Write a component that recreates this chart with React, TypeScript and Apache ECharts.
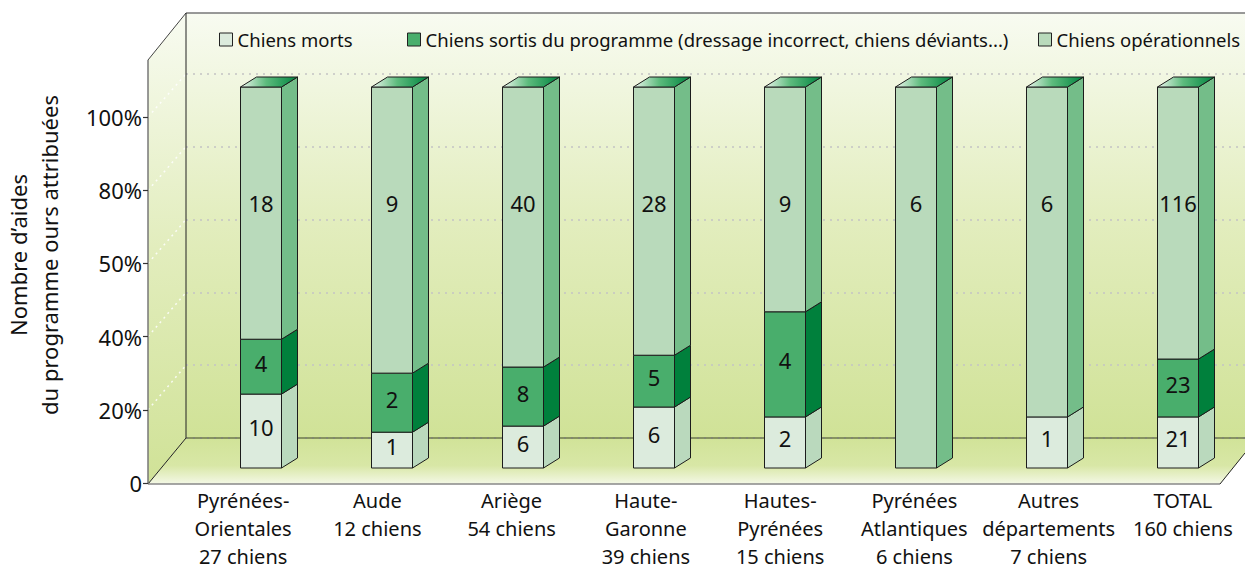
import React, { useEffect, useRef } from "react";
import * as echarts from "echarts";

// ---------- data ----------
const categories = [
  "Pyrénées-\nOrientales\n27 chiens",
  "Aude\n12 chiens",
  "Ariège\n54 chiens",
  "Haute-\nGaronne\n39 chiens",
  "Hautes-\nPyrénées\n15 chiens",
  "Pyrénées\nAtlantiques\n6 chiens",
  "Autres\ndépartements\n7 chiens",
  "TOTAL\n160 chiens",
];
const seriesNames = [
  "Chiens morts",
  "Chiens sortis du programme (dressage incorrect, chiens déviants...)",
  "Chiens opérationnels",
];
// drawn share of each bar (percent)
const mortsPct = [19.4, 9.4, 11.0, 16.0, 13.4, 0, 13.4, 13.4];
const sortisPct = [14.4, 15.5, 15.5, 13.6, 27.6, 0, 0, 15.2];
const operPct = [66.2, 75.1, 73.5, 70.4, 59.0, 100, 86.6, 71.4];
// printed counts
const mortsCount = [10, 1, 6, 6, 2, 0, 1, 21];
const sortisCount = [4, 2, 8, 5, 4, 0, 0, 23];
const operCount = [18, 9, 40, 28, 9, 6, 6, 116];
const yTickLabels = ["0", "20%", "40%", "50%", "80%", "100%"];

// ---------- style ----------
const FONT = "Noto Sans";
const FRONT = ["#dcebdd", "#49ae6c", "#b9dabb"];
const SIDE = ["#bad9bd", "#00803c", "#74bd89"];
const DX = 16;
const DY = -10;
const OPER_LABEL_LEVEL = 69.5;

const wallGradient = () =>
  new echarts.graphic.LinearGradient(0, 0, 0, 1, [
    { offset: 0, color: "#f8fbf1" },
    { offset: 0.5, color: "#e2edbd" },
    { offset: 1, color: "#d0e297" },
  ]);

function makeRender(s: number, counts: number[]) {
  return (params: any, api: any) => {
    const i = api.value(0);
    const lo = api.value(1);
    const hi = api.value(2);
    if (!(hi - lo > 0)) return null;
    const w = 41;
    const cx = api.coord([i, 0])[0];
    const yLo = api.coord([i, lo])[1];
    const yHi = api.coord([i, hi])[1];
    const x0 = cx - w / 2;
    const x1 = cx + w / 2;
    const stroke = "#1c1c1c";
    const children: any[] = [
      {
        type: "rect",
        shape: { x: x0, y: yHi, width: w, height: yLo - yHi },
        style: { fill: FRONT[s], stroke, lineWidth: 1 },
      },
      {
        type: "polygon",
        shape: {
          points: [
            [x1, yHi],
            [x1 + DX, yHi + DY],
            [x1 + DX, yLo + DY],
            [x1, yLo],
          ],
        },
        style: { fill: SIDE[s], stroke, lineWidth: 1 },
      },
    ];
    if (hi >= 99.9) {
      children.push({
        type: "polygon",
        shape: {
          points: [
            [x0, yHi],
            [x0 + DX, yHi + DY],
            [x1 + DX, yHi + DY],
            [x1, yHi],
          ],
        },
        style: {
          fill: new echarts.graphic.LinearGradient(0, 0, 1, 0, [
            { offset: 0, color: "#eef7ee" },
            { offset: 0.45, color: "#5dbb7d" },
            { offset: 1, color: "#00843f" },
          ]),
          stroke,
          lineWidth: 1,
        },
      });
    }
    const c = counts[params.dataIndex];
    if (c > 0) {
      const ly =
        s === 2 ? api.coord([i, OPER_LABEL_LEVEL])[1] : (yLo + yHi) / 2 - 4;
      children.push({
        type: "text",
        x: cx,
        y: ly,
        style: {
          text: String(c),
          fill: "#111",
          font: `22px "${FONT}"`,
          align: "center",
          verticalAlign: "middle",
        },
      });
    }
    return { type: "group", children };
  };
}

export default function App() {
  const ref = useRef<HTMLDivElement>(null);
  useEffect(() => {
    const chart = echarts.init(ref.current!, null, { renderer: "svg" });
    const ranges = (k: number) =>
      categories.map((_, i) => {
        const m = mortsPct[i];
        const so = sortisPct[i];
        const op = operPct[i];
        if (k === 0) return [i, 0, m];
        if (k === 1) return [i, m, m + so];
        return [i, m + so, m + so + op];
      });
    const countsArr = [mortsCount, sortisCount, operCount];

    // wall geometry
    const FL = 148, BL = 186, TOP = 13, LWT = 60, FB = 438, FF = 484, FR = 1220, W = 1245;
    const frontTick = (k: number) => 483 - k * 73.2;
    const backTick = (k: number) => FB - k * 72.8;

    const graphics: any[] = [
      { type: "rect", z: -10, shape: { x: BL, y: TOP, width: W - BL, height: FB - TOP }, style: { fill: wallGradient() } },
      { type: "polygon", z: -10, shape: { points: [[FL, LWT], [BL, TOP], [BL, FB], [FL, FF]] }, style: { fill: wallGradient() } },
      {
        type: "polygon",
        z: -10,
        shape: { points: [[FL, FF], [BL, FB], [W, FB], [W, FF - 31], [FR, FF]] },
        style: {
          fill: new echarts.graphic.LinearGradient(0, 0, 0, 1, [
            { offset: 0, color: "#d1e398" },
            { offset: 0.6, color: "#d8e7a6" },
            { offset: 1, color: "#f4f8e6" },
          ]),
        },
      },
      { type: "line", z: 1, shape: { x1: BL, y1: TOP, x2: W, y2: TOP }, style: { stroke: "#777", lineWidth: 1.5 } },
      { type: "line", z: 1, shape: { x1: FL, y1: LWT, x2: BL, y2: TOP }, style: { stroke: "#444", lineWidth: 1 } },
      { type: "line", z: 1, shape: { x1: BL, y1: TOP, x2: BL, y2: FB }, style: { stroke: "#222", lineWidth: 1 } },
      { type: "line", z: 1, shape: { x1: FL, y1: LWT, x2: FL, y2: FF }, style: { stroke: "#777", lineWidth: 1.5 } },
      { type: "line", z: 1, shape: { x1: FL, y1: FF, x2: BL, y2: FB }, style: { stroke: "#222", lineWidth: 1 } },
      { type: "line", z: 1, shape: { x1: BL, y1: FB, x2: W, y2: FB }, style: { stroke: "#3d4528", lineWidth: 1.2 } },
      { type: "line", z: 1, shape: { x1: FL, y1: FF, x2: FR, y2: FF }, style: { stroke: "#888", lineWidth: 1.5 } },
      { type: "line", z: 1, shape: { x1: FR, y1: FF, x2: W, y2: FF - 31 }, style: { stroke: "#222", lineWidth: 1 } },
      {
        type: "text",
        z: 1,
        x: 33,
        y: 255,
        rotation: Math.PI / 2,
        style: {
          text: "Nombre d’aides\ndu programme ours attribuées",
          font: `22px "${FONT}"`,
          fill: "#111",
          align: "center",
          verticalAlign: "middle",
          lineHeight: 31,
        },
      },
    ];
    for (let k = 1; k <= 5; k++) {
      graphics.push({
        type: "line",
        z: 0,
        shape: { x1: FL, y1: frontTick(k), x2: BL, y2: backTick(k) },
        style: { stroke: "rgba(255,255,255,0.85)", lineWidth: 1.5, lineDash: [2, 4] },
      });
    }

    const legendLefts = [219, 407, 1038];

    chart.setOption({
      animation: false,
      textStyle: { fontFamily: FONT },
      graphic: { elements: graphics },
      legend: seriesNames.map((name, k) => ({
        left: legendLefts[k],
        top: 30,
        padding: 0,
        icon: "rect",
        itemWidth: 13,
        itemHeight: 13,
        itemGap: 0,
        selectedMode: false,
        textStyle: { fontSize: 18.5, color: "#111", fontFamily: FONT },
        data: [{ name, itemStyle: { color: FRONT[k], borderColor: "#222", borderWidth: 1 } }],
      })),
      grid: [
        { left: FL, top: 117, width: 10, bottom: 570 - 483, outerBoundsMode: "none" },
        { left: 195.5, right: 1.5, top: 87, bottom: 570 - 468, outerBoundsMode: "none" },
        { left: BL, right: 0, top: 74, bottom: 570 - FB, outerBoundsMode: "none" },
        { left: 176, right: -5, top: 87, bottom: 570 - 468, outerBoundsMode: "none" },
      ],
      xAxis: [
        { gridIndex: 0, type: "value", show: false },
        { gridIndex: 1, type: "category", data: categories, show: false },
        { gridIndex: 2, type: "value", show: false },
        {
          gridIndex: 3,
          type: "category",
          data: categories,
          axisLine: { show: false },
          axisTick: { show: false },
          axisLabel: {
            interval: 0,
            margin: 18,
            fontSize: 20,
            lineHeight: 28,
            color: "#111",
            fontFamily: FONT,
            verticalAlign: "top",
          },
        },
      ],
      yAxis: [
        {
          gridIndex: 0,
          type: "value",
          min: 0,
          max: 100,
          interval: 20,
          z: 3,
          axisLine: { show: false },
          axisTick: { show: true, length: 5, lineStyle: { color: "#333", width: 1.2 } },
          splitLine: { show: false },
          axisLabel: {
            fontSize: 22,
            color: "#111",
            margin: 6,
            fontFamily: FONT,
            formatter: (v: number) => yTickLabels[Math.round(v / 20)],
          },
        },
        { gridIndex: 1, type: "value", min: 0, max: 100, show: false },
        {
          gridIndex: 2,
          type: "value",
          min: 0,
          max: 100,
          interval: 20,
          axisLine: { show: false },
          axisTick: { show: false },
          axisLabel: { show: false },
          splitLine: { show: true, lineStyle: { color: "#c4c4c4", width: 1.5, type: [2, 5] } },
        },
        { gridIndex: 3, type: "value", min: 0, max: 100, show: false },
      ],
      series: seriesNames.map((name, k) => ({
        name,
        type: "custom",
        xAxisIndex: 1,
        yAxisIndex: 1,
        z: 5,
        itemStyle: { color: FRONT[k], borderColor: "#222", borderWidth: 1 },
        encode: { x: 0, y: [1, 2] },
        renderItem: makeRender(k, countsArr[k]),
        data: ranges(k),
      })),
    });
    return () => chart.dispose();
  }, []);
  return (
    <div
      ref={ref}
      style={{ position: "fixed", left: 0, top: 0, width: 1245, height: 570, background: "#fff" }}
    />
  );
}
